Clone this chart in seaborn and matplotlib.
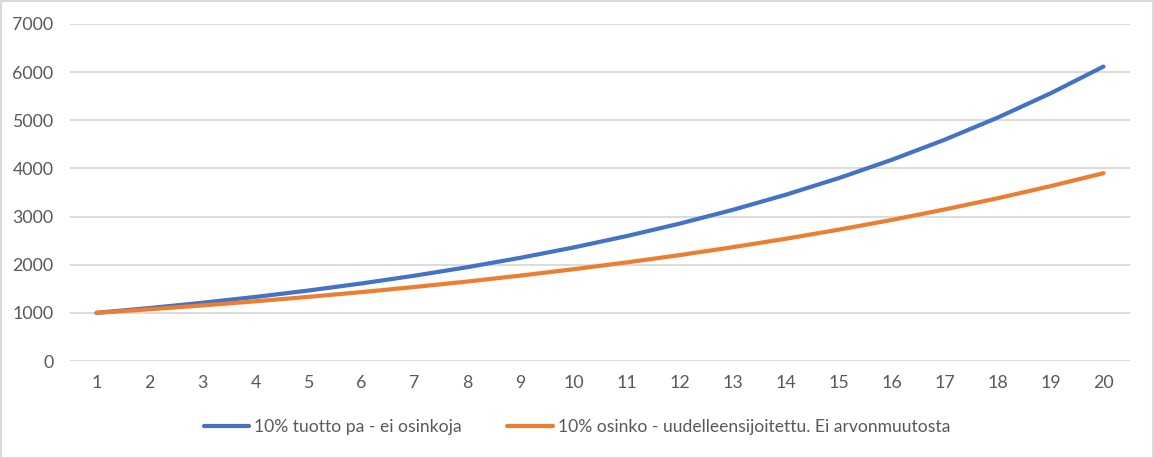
import matplotlib
matplotlib.use("Agg")
import matplotlib.pyplot as plt
import seaborn as sns
import pandas as pd
from matplotlib.patches import Rectangle

years = list(range(1, 21))
series_a_name = "10% tuotto pa - ei osinkoja"
series_b_name = "10% osinko - uudelleensijoitettu. Ei arvonmuutosta"
series_a = [1000, 1100, 1210, 1331, 1464, 1611, 1772, 1949, 2144, 2358,
            2594, 2853, 3138, 3452, 3797, 4177, 4595, 5054, 5560, 6116]
series_b = [1000, 1074, 1154, 1240, 1332, 1431, 1537, 1651, 1774, 1906,
            2047, 2199, 2363, 2538, 2727, 2929, 3147, 3380, 3632, 3901]
y_ticks = [0, 1000, 2000, 3000, 4000, 5000, 6000, 7000]

df = pd.DataFrame({
    "x": years + years,
    "y": series_a + series_b,
    "s": [series_a_name] * len(years) + [series_b_name] * len(years),
})

sns.set_theme(style="white")
plt.rcParams["font.family"] = ["Lato", "DejaVu Sans"]
text_color = "#595959"

fig = plt.figure(figsize=(11.54, 4.58), dpi=100)
ax = fig.add_axes([70 / 1154, 1 - 361 / 458, 1060 / 1154, 337 / 458])

sns.lineplot(data=df, x="x", y="y", hue="s", ax=ax,
             palette=["#4472C4", "#ED7D31"], linewidth=3.0,
             legend=True)
for ln in ax.lines:
    ln.set_solid_capstyle("round")

ax.set_xlim(0.5, 20.5)
ax.set_ylim(0, 7000)
ax.set_xticks(years)
ax.set_xticklabels([str(v) for v in years])
ax.set_yticks(y_ticks)
ax.set_yticklabels([str(v) for v in y_ticks])
ax.set_xlabel("")
ax.set_ylabel("")
ax.grid(axis="y", color="#D9D9D9", linewidth=1.3)
ax.grid(axis="x", visible=False)
ax.set_axisbelow(True)
for sp in ax.spines.values():
    sp.set_visible(False)
ax.tick_params(axis="both", length=0, labelsize=12.8, colors=text_color)
ax.tick_params(axis="y", pad=12)
ax.tick_params(axis="x", pad=10)

handles, labels = ax.get_legend_handles_labels()
for h in handles:
    h.set_solid_capstyle("round")
ax.legend(handles, labels, loc="center", bbox_to_anchor=(0.5, 1 - 427 / 458),
          bbox_transform=fig.transFigure, ncol=2, frameon=False,
          fontsize=12.6, labelcolor=text_color, handlelength=2.6,
          handletextpad=0.3, columnspacing=2.6)

fig.patches.append(Rectangle((0.5 / 1154, 0.5 / 458), 1 - 1.5 / 1154, 1 - 1.5 / 458,
                             transform=fig.transFigure, fill=False,
                             edgecolor="#D9D9D9", linewidth=1.5))

fig.savefig("out.png", dpi=100)
